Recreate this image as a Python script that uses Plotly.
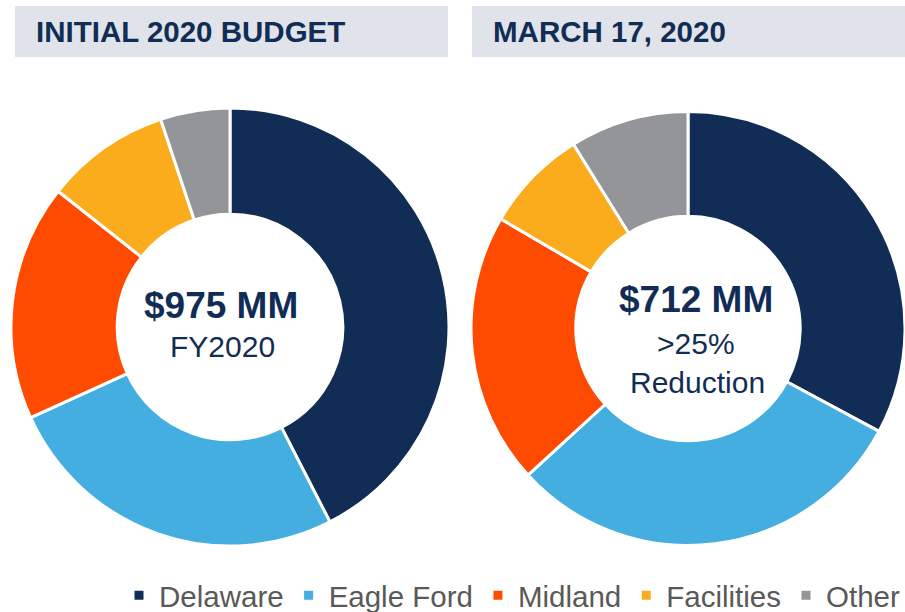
import plotly.graph_objects as go

categories = ["Delaware", "Eagle Ford", "Midland", "Facilities", "Other"]
initial_budget = [414, 251, 170, 90, 50]      # $MM, total 975
march_budget = [234, 216, 144, 55, 63]        # $MM, total 712
colors = ["#112D55", "#45AEE0", "#FF4B00", "#FBAC1C", "#949599"]

W, H = 905, 612
FONT = "Liberation Sans, Arial, sans-serif"
NAVY = "#112D55"

def px_x(x):
    return x / W

def px_y(y):
    return 1 - y / H

fig = go.Figure()
fig.add_trace(go.Pie(
    labels=categories, values=initial_budget, hole=0.515, sort=False,
    direction="clockwise", rotation=0, textinfo="none",
    marker=dict(colors=colors, line=dict(color="white", width=3)),
    domain=dict(x=[px_x(11), px_x(449)], y=[px_y(546), px_y(108)]),
    hoverinfo="label+value",
))
fig.add_trace(go.Pie(
    labels=categories, values=march_budget, hole=0.517, sort=False,
    direction="clockwise", rotation=0, textinfo="none",
    marker=dict(colors=colors, line=dict(color="white", width=3)),
    domain=dict(x=[px_x(471), 1.0], y=[px_y(547), px_y(110)]),
    hoverinfo="label+value",
))

shapes = [
    dict(type="rect", xref="paper", yref="paper", x0=px_x(15), x1=px_x(448),
         y0=px_y(57), y1=px_y(6), fillcolor="#E0E3EA", line=dict(width=0), layer="below"),
    dict(type="rect", xref="paper", yref="paper", x0=px_x(472), x1=1.0,
         y0=px_y(57), y1=px_y(6), fillcolor="#E0E3EA", line=dict(width=0), layer="below"),
]

def ann(text, x, y, size, bold=False, anchor="left", color=NAVY):
    return dict(text=f"<b>{text}</b>" if bold else text, xref="paper", yref="paper",
                x=px_x(x), y=px_y(y), xanchor=anchor, yanchor="middle",
                showarrow=False, font=dict(family=FONT, size=size, color=color))

annotations = [
    ann("INITIAL 2020 BUDGET", 34, 31, 29.5, bold=True),
    ann("MARCH 17, 2020", 491, 31, 29.5, bold=True),
    ann("$975 MM", 221, 305, 37, bold=True, anchor="center"),
    ann("FY2020", 222, 346, 30, anchor="center"),
    ann("$712 MM", 696, 299, 37, bold=True, anchor="center"),
    ann("&gt;25%", 696, 343, 30, anchor="center"),
    ann("Reduction", 697, 382, 30, anchor="center"),
]

fig.update_layout(
    width=W, height=H,
    margin=dict(l=0, r=0, t=0, b=0, autoexpand=False),
    paper_bgcolor="white", plot_bgcolor="white",
    shapes=shapes, annotations=annotations,
    showlegend=True,
    legend=dict(orientation="h", x=px_x(119), xanchor="left",
                y=px_y(595.5), yanchor="middle", maxheight=120,
                font=dict(family=FONT, size=29.5, color="#595959"),
                bgcolor="rgba(0,0,0,0)", traceorder="normal"),
)

# remove the default page margin so the 905x612 figure fills the window exactly
fig.write_html(
    "out.html",
    config={"displayModeBar": False},
    post_script="document.body.style.margin='0';document.body.style.overflow='hidden';",
)
